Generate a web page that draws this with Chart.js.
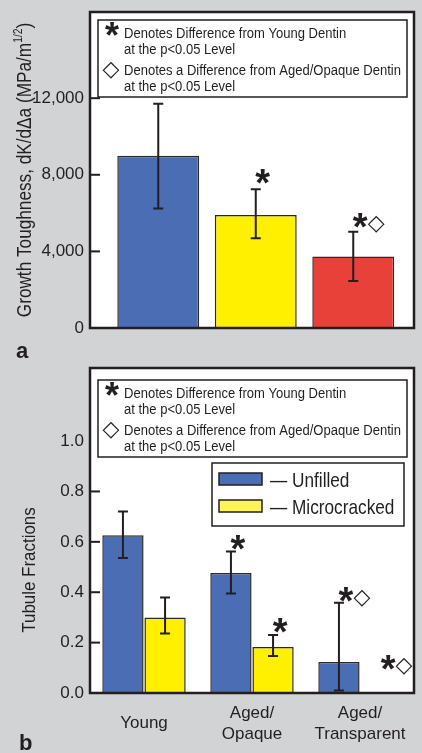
<!DOCTYPE html>
<html>
<head>
<meta charset="utf-8">
<script src="https://cdn.jsdelivr.net/npm/chart.js@4.4.1/dist/chart.umd.min.js"></script>
<style>
  html, body { margin: 0; padding: 0; background: #d1d3d4; }
  body { width: 422px; height: 753px; position: relative; overflow: hidden; }
  .panel { position: absolute; left: 0; width: 422px; }
  #wrapA { top: 0; height: 360px; }
  #wrapB { top: 360px; height: 393px; }
</style>
</head>
<body>
<div class="panel" id="wrapA"><canvas id="chartA"></canvas></div>
<div class="panel" id="wrapB"><canvas id="chartB"></canvas></div>
<script>
// Panel a: growth toughness
const groupsA = ['Young', 'Aged/Opaque', 'Aged/Transparent'];
const toughness = [9000, 5900, 3730];
const toughLow = [6240, 4690, 2460];
const toughHigh = [11710, 7250, 5030];
const marksA = ['', '*', '*◇'];
const markLevelA = [null, 7740, 5440];
const yTicksA = [0, 4000, 8000, 12000];

// Panel b: tubule fractions
const groupsB = ['Young', ['Aged/', 'Opaque'], ['Aged/', 'Transparent']];
const unfilled = [0.626, 0.476, 0.123];
const unfilledLow = [0.536, 0.395, 0.01];
const unfilledHigh = [0.72, 0.562, 0.358];
const microcracked = [0.30, 0.183, 0];
const microLow = [0.236, 0.147, null];
const microHigh = [0.379, 0.23, null];
const marksUnfilled = ['', '*', '*◇'];
const markLevelUnfilled = [null, 0.582, 0.377];
const marksMicro = ['', '*', '*◇'];
const markLevelMicro = [null, 0.253, 0.107];
const yTicksB = [0, 0.2, 0.4, 0.6, 0.8, 1.0];

const noteLines = [
  ['Denotes Difference from Young Dentin', 'at the p<0.05 Level'],
  ['Denotes a Difference from Aged/Opaque Dentin', 'at the p<0.05 Level']
];

const TEXT = '#231f20';
const BLUE = '#4a6db4';
const YELLOW = '#fff000';
const RED = '#e8413a';
const SANS = "'Liberation Sans', Arial, sans-serif";

Chart.defaults.font.family = SANS;
Chart.defaults.color = TEXT;

// texto estrechado (la fuente original es condensada)
function narrowText(ctx, text, x, y, sx) {
  ctx.save();
  ctx.translate(x, y);
  ctx.scale(sx, 1);
  ctx.fillText(text, 0, 0);
  ctx.restore();
}

function drawStar(ctx, x, y, size) {
  ctx.save();
  ctx.font = 'bold ' + size + 'px ' + SANS;
  ctx.textAlign = 'center';
  ctx.textBaseline = 'alphabetic';
  ctx.fillStyle = TEXT;
  ctx.fillText('*', x, y + size * 0.42);
  ctx.restore();
}

function drawDiamond(ctx, x, y, size) {
  ctx.save();
  ctx.font = size + "px 'DejaVu Sans', sans-serif";
  ctx.textAlign = 'center';
  ctx.textBaseline = 'middle';
  ctx.fillStyle = TEXT;
  ctx.fillText('◇', x, y);
  ctx.restore();
}

function drawMark(ctx, text, x, y) {
  if (text.indexOf('*') >= 0) drawStar(ctx, x, y, 38);
  if (text.indexOf('◇') >= 0) drawDiamond(ctx, x + 16, y, 22);
}

// fondo, barras de error, marcas, caja, leyendas y titulos
const panelPlugin = {
  id: 'panel',
  beforeDraw(chart, args, opts) {
    const { ctx, chartArea: a } = chart;
    const left = a.left - opts.boxPad.left, right = a.right + opts.boxPad.right;
    ctx.save();
    ctx.fillStyle = '#fff';
    ctx.fillRect(left, a.top, right - left, a.bottom - a.top);
    ctx.restore();
  },
  afterDatasetsDraw(chart, args, opts) {
    const ctx = chart.ctx;
    const y = chart.scales.y;
    ctx.save();
    ctx.strokeStyle = TEXT;
    ctx.lineWidth = 2;
    opts.errors.forEach((err, d) => {
      const meta = chart.getDatasetMeta(d);
      meta.data.forEach((bar, i) => {
        if (err.low[i] == null) return;
        const yh = y.getPixelForValue(err.high[i]);
        const yl = y.getPixelForValue(err.low[i]);
        ctx.beginPath();
        ctx.moveTo(bar.x, yh); ctx.lineTo(bar.x, yl);
        ctx.moveTo(bar.x - 5, yh); ctx.lineTo(bar.x + 5, yh);
        ctx.moveTo(bar.x - 5, yl); ctx.lineTo(bar.x + 5, yl);
        ctx.stroke();
      });
    });
    ctx.restore();
    opts.marks.forEach((mk, d) => {
      const meta = chart.getDatasetMeta(d);
      meta.data.forEach((bar, i) => {
        if (!mk.text[i]) return;
        drawMark(ctx, mk.text[i], bar.x + 7, y.getPixelForValue(mk.level[i]));
      });
    });
  },
  afterDraw(chart, args, opts) {
    const { ctx, chartArea: a } = chart;
    const y = chart.scales.y;
    const left = a.left - opts.boxPad.left, right = a.right + opts.boxPad.right;
    const boxTop = a.top + opts.notesTop;
    const boxBottom = boxTop + 77;

    // marcas de eje hacia dentro
    ctx.save();
    ctx.strokeStyle = TEXT;
    ctx.lineWidth = 2;
    opts.ticks.forEach(v => {
      const py = y.getPixelForValue(v);
      if (v === 0 || (py > boxTop - 2 && py < boxBottom)) return;
      ctx.beginPath();
      ctx.moveTo(left, py); ctx.lineTo(left + 10, py);
      ctx.stroke();
    });
    // caja del grafico
    ctx.lineWidth = 2.5;
    ctx.strokeRect(left, a.top, right - left, a.bottom - a.top);

    // caja de notas
    const bx = left + 8, bw = right - 7 - bx;
    ctx.fillStyle = '#fff';
    ctx.fillRect(bx, boxTop, bw, 77);
    ctx.lineWidth = 1.5;
    ctx.strokeRect(bx, boxTop, bw, 77);
    ctx.fillStyle = TEXT;
    ctx.font = '15.5px ' + SANS;
    ctx.textAlign = 'left';
    ctx.textBaseline = 'alphabetic';
    const base = [18, 34, 55, 71];
    narrowText(ctx, noteLines[0][0], left + 34, boxTop + base[0], 0.84);
    narrowText(ctx, noteLines[0][1], left + 34, boxTop + base[1], 0.84);
    narrowText(ctx, noteLines[1][0], left + 34, boxTop + base[2], 0.84);
    narrowText(ctx, noteLines[1][1], left + 34, boxTop + base[3], 0.84);
    drawStar(ctx, left + 22, boxTop + 13, 36);
    drawDiamond(ctx, left + 21, boxTop + 50, 22);
    ctx.restore();

    // leyenda de series
    if (opts.seriesLegend) {
      const L = opts.seriesLegend;
      ctx.save();
      ctx.fillStyle = '#fff';
      ctx.fillRect(L.x, L.y, L.w, L.h);
      ctx.strokeStyle = TEXT;
      ctx.lineWidth = 1.5;
      ctx.strokeRect(L.x, L.y, L.w, L.h);
      ctx.font = '21px ' + SANS;
      ctx.textAlign = 'left';
      ctx.textBaseline = 'alphabetic';
      chart.data.datasets.forEach((ds, i) => {
        const sy = L.y + 10 + i * 27;
        ctx.fillStyle = i === 0 ? BLUE : '#fff35a';
        ctx.fillRect(L.x + 7, sy, 43, 12);
        ctx.lineWidth = 1.5;
        ctx.strokeRect(L.x + 7, sy, 43, 12);
        ctx.fillStyle = TEXT;
        narrowText(ctx, '\u2014 ' + ds.label, L.x + 58, sy + 14, 0.82);
      });
      ctx.restore();
    }

    // titulo del eje y
    ctx.save();
    ctx.translate(opts.titleX, opts.titleY);
    ctx.rotate(-Math.PI / 2);
    ctx.scale(opts.titleScale, 1);
    ctx.fillStyle = TEXT;
    ctx.textBaseline = 'middle';
    ctx.textAlign = 'left';
    const f = opts.titleSize;
    const sup = opts.titleSup || '';
    ctx.font = (f * 0.6) + 'px ' + SANS;
    const supW = sup ? ctx.measureText(sup).width : 0;
    ctx.font = f + 'px ' + SANS;
    const mainW = ctx.measureText(opts.title).width;
    const tailW = sup ? ctx.measureText(')').width : 0;
    const tx = -(mainW + supW + tailW) / 2;
    ctx.fillText(opts.title, tx, 0);
    if (sup) {
      ctx.font = (f * 0.6) + 'px ' + SANS;
      ctx.fillText(sup, tx + mainW, -f * 0.3);
      ctx.font = f + 'px ' + SANS;
      ctx.fillText(')', tx + mainW + supW, 0);
    }
    ctx.restore();

    // letra del panel
    ctx.save();
    ctx.fillStyle = TEXT;
    ctx.font = 'bold 22px ' + SANS;
    ctx.textAlign = 'left';
    ctx.textBaseline = 'alphabetic';
    ctx.fillText(opts.letter, opts.letterX, opts.letterY);
    ctx.restore();
  }
};

function yScale(max, ticks, width, pad, fmt) {
  return {
    min: 0,
    max: max,
    afterFit(scale) {
      scale.width = width;
      scale.paddingTop = 0;
      scale.paddingBottom = 0;
    },
    afterBuildTicks(scale) { scale.ticks = ticks.map(v => ({ value: v })); },
    grid: { display: false, drawTicks: false },
    border: { display: false },
    ticks: { padding: pad, font: { size: 17 }, color: TEXT, callback: fmt }
  };
}

function xScale(height, tickOpts) {
  return {
    afterFit(scale) {
      scale.height = height;
      scale.paddingLeft = 0;
      scale.paddingRight = 0;
    },
    grid: { display: false, drawTicks: false },
    border: { display: false },
    ticks: tickOpts
  };
}

new Chart(document.getElementById('chartA'), {
  type: 'bar',
  data: {
    labels: groupsA,
    datasets: [{
      label: 'Growth Toughness',
      data: toughness,
      backgroundColor: [BLUE, YELLOW, RED],
      borderColor: '#2b2b2b',
      borderWidth: 1.5,
      barPercentage: 0.84,
      categoryPercentage: 1.0
    }]
  },
  options: {
    responsive: true,
    maintainAspectRatio: false,
    animation: false,
    layout: { padding: { top: 12, right: 20, left: 0, bottom: 0 } },
    plugins: {
      legend: { display: false },
      tooltip: { enabled: false },
      panel: {
        boxPad: { left: 19.5, right: 12 },
        errors: [{ low: toughLow, high: toughHigh }],
        marks: [{ text: marksA, level: markLevelA }],
        ticks: yTicksA,
        notesTop: 8,
        title: 'Growth Toughness, dK/d\u0394a (MPa/m',
        titleSup: '1/2',
        titleSize: 20,
        titleScale: 0.86,
        titleX: 25,
        titleY: 170,
        letter: 'a',
        letterX: 16,
        letterY: 358
      }
    },
    scales: {
      x: xScale(32, { display: false }),
      y: yScale(16500, yTicksA, 109.5, 25.5, v => v.toLocaleString('en-US'))
    }
  },
  plugins: [panelPlugin]
});

new Chart(document.getElementById('chartB'), {
  type: 'bar',
  data: {
    labels: groupsB,
    datasets: [
      {
        label: 'Unfilled',
        data: unfilled,
        backgroundColor: BLUE,
        borderColor: '#2b2b2b',
        borderWidth: 1.5,
        barPercentage: 0.98,
        categoryPercentage: 0.78
      },
      {
        label: 'Microcracked',
        data: microcracked,
        backgroundColor: YELLOW,
        borderColor: '#2b2b2b',
        borderWidth: 1.5,
        barPercentage: 0.98,
        categoryPercentage: 0.78
      }
    ]
  },
  options: {
    responsive: true,
    maintainAspectRatio: false,
    animation: false,
    layout: { padding: { top: 8, right: 8, left: 0, bottom: 0 } },
    plugins: {
      legend: { display: false },
      tooltip: { enabled: false },
      panel: {
        boxPad: { left: 0, right: 0 },
        errors: [{ low: unfilledLow, high: unfilledHigh }, { low: microLow, high: microHigh }],
        marks: [{ text: marksUnfilled, level: markLevelUnfilled }, { text: marksMicro, level: markLevelMicro }],
        ticks: yTicksB,
        notesTop: 12,
        seriesLegend: { x: 212, y: 103, w: 192, h: 63 },
        title: 'Tubule Fractions',
        titleSize: 19,
        titleScale: 0.89,
        titleX: 30,
        titleY: 210,
        letter: 'b',
        letterX: 19,
        letterY: 390
      }
    },
    scales: {
      x: xScale(60, {
        padding: 20,
        font: { size: 17, lineHeight: 1.24 },
        color: TEXT,
        maxRotation: 0,
        autoSkip: false,
        crossAlign: 'center'
      }),
      y: yScale(1.29, yTicksB, 90, 6, v => v.toFixed(1))
    }
  },
  plugins: [panelPlugin]
});
</script>
</body>
</html>
